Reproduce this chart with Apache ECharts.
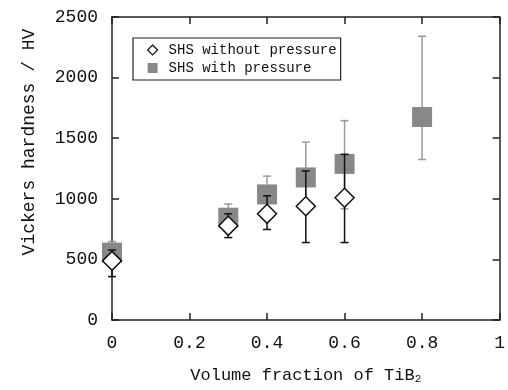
<!DOCTYPE html>
<html>
<head>
<meta charset="utf-8">
<script src="https://cdn.jsdelivr.net/npm/echarts@6/dist/echarts.min.js"></script>
<style>
  html, body { margin: 0; padding: 0; background: #fff; }
  #chart { width: 508px; height: 390px; }
</style>
</head>
<body>
<div id="chart"></div>
<script>
// SHS with pressure (gray squares)
const xWith = [0, 0.3, 0.4, 0.5, 0.6, 0.8]
const hvWith = [556, 844, 1036, 1176, 1288, 1675]
const hvWithLow = [480, 760, 880, 920, 917, 1324]
const hvWithHigh = [647, 957, 1187, 1467, 1645, 2341]

// SHS without pressure (open diamonds)
const xWithout = [0, 0.3, 0.4, 0.5, 0.6]
const hvWithout = [488, 777, 876, 939, 1009]
const hvWithoutLow = [358, 680, 747, 639, 639]
const hvWithoutHigh = [577, 876, 1025, 1230, 1367]

const FONT = '"Liberation Mono", "DejaVu Sans Mono", monospace'

const chart = echarts.init(document.getElementById('chart'))

// vertical error bar with caps
function errorBar(color) {
    return function (params, api) {
        const x = api.value(0)
        const lo = api.coord([x, api.value(1)])
        const hi = api.coord([x, api.value(2)])
        const half = 4
        const style = { stroke: color, lineWidth: 1.5 }
        return {
            type: 'group',
            children: [
                { type: 'line', shape: { x1: lo[0], y1: lo[1], x2: hi[0], y2: hi[1] }, style: style },
                { type: 'line', shape: { x1: lo[0] - half, y1: lo[1], x2: lo[0] + half, y2: lo[1] }, style: style },
                { type: 'line', shape: { x1: hi[0] - half, y1: hi[1], x2: hi[0] + half, y2: hi[1] }, style: style },
            ],
        }
    }
}

const axisLine = { onZero: false, lineStyle: { color: '#222', width: 1.5 } }
const axisTick = { inside: true, length: 7, lineStyle: { color: '#222', width: 1.5 } }

let option = {
    animation: false,
    grid: { left: 112, right: 6, top: 17, bottom: 64 },
    legend: {
        orient: 'vertical',
        left: 133,
        top: 38,
        padding: [5, 4, 5, 14],
        itemGap: 4,
        itemWidth: 10,
        itemHeight: 10,
        borderColor: '#222',
        borderWidth: 1.2,
        backgroundColor: '#fff',
        textStyle: { fontFamily: FONT, fontSize: 14, color: '#111', padding: [0, 0, 0, 6] },
        data: [{
            name: 'SHS without pressure',
            itemStyle: { borderWidth: 1.2 },
        }, {
            name: 'SHS with pressure',
        }],
    },
    xAxis: [{
        type: 'value',
        min: 0,
        max: 1,
        interval: 0.2,
        name: 'Volume fraction of TiB{sub|2}',
        nameLocation: 'middle',
        nameGap: 46,
        nameTextStyle: {
            fontFamily: FONT, fontSize: 17, color: '#111',
            rich: { sub: { fontFamily: FONT, fontSize: 11, color: '#111', padding: [8, 0, 0, 0] } },
        },
        axisLine: axisLine,
        axisTick: axisTick,
        splitLine: { show: false },
        axisLabel: { fontFamily: FONT, fontSize: 18, color: '#111', margin: 14 },
    }, {
        type: 'value',
        position: 'top',
        min: 0,
        max: 1,
        interval: 0.2,
        axisLine: axisLine,
        axisTick: axisTick,
        splitLine: { show: false },
        axisLabel: { show: false },
    }],
    yAxis: [{
        type: 'value',
        min: 0,
        max: 2500,
        interval: 500,
        axisLine: axisLine,
        axisTick: axisTick,
        splitLine: { show: false },
        axisLabel: { fontFamily: FONT, fontSize: 18, color: '#111', margin: 14, formatter: v => String(v) },
    }, {
        type: 'value',
        position: 'right',
        min: 0,
        max: 2500,
        interval: 500,
        axisLine: axisLine,
        axisTick: axisTick,
        splitLine: { show: false },
        axisLabel: { show: false },
    }],
    graphic: [{
        type: 'text',
        x: 29,
        y: 142,
        rotation: Math.PI / 2,
        style: {
            text: 'Vickers hardness / HV',
            font: '18px ' + FONT,
            fill: '#111',
            textAlign: 'center',
            textVerticalAlign: 'middle',
        },
    }],
    series: [{
        type: 'custom',
        name: 'err with',
        z: 1,
        renderItem: errorBar('#9a9a9a'),
        data: xWith.map((x, i) => [x, hvWithLow[i], hvWithHigh[i]]),
    }, {
        type: 'scatter',
        name: 'SHS with pressure',
        z: 2,
        symbol: 'rect',
        symbolSize: 20,
        itemStyle: { color: '#888888', opacity: 1 },
        data: xWith.map((x, i) => [x, hvWith[i]]),
    }, {
        type: 'custom',
        name: 'err without',
        z: 3,
        renderItem: errorBar('#111'),
        data: xWithout.map((x, i) => [x, hvWithoutLow[i], hvWithoutHigh[i]]),
    }, {
        type: 'scatter',
        name: 'SHS without pressure',
        z: 4,
        symbol: 'diamond',
        symbolSize: 19,
        itemStyle: { color: '#fff', borderColor: '#111', borderWidth: 1.5, opacity: 1 },
        data: xWithout.map((x, i) => [x, hvWithout[i]]),
    }],
}

chart.setOption(option)
</script>
</body>
</html>
